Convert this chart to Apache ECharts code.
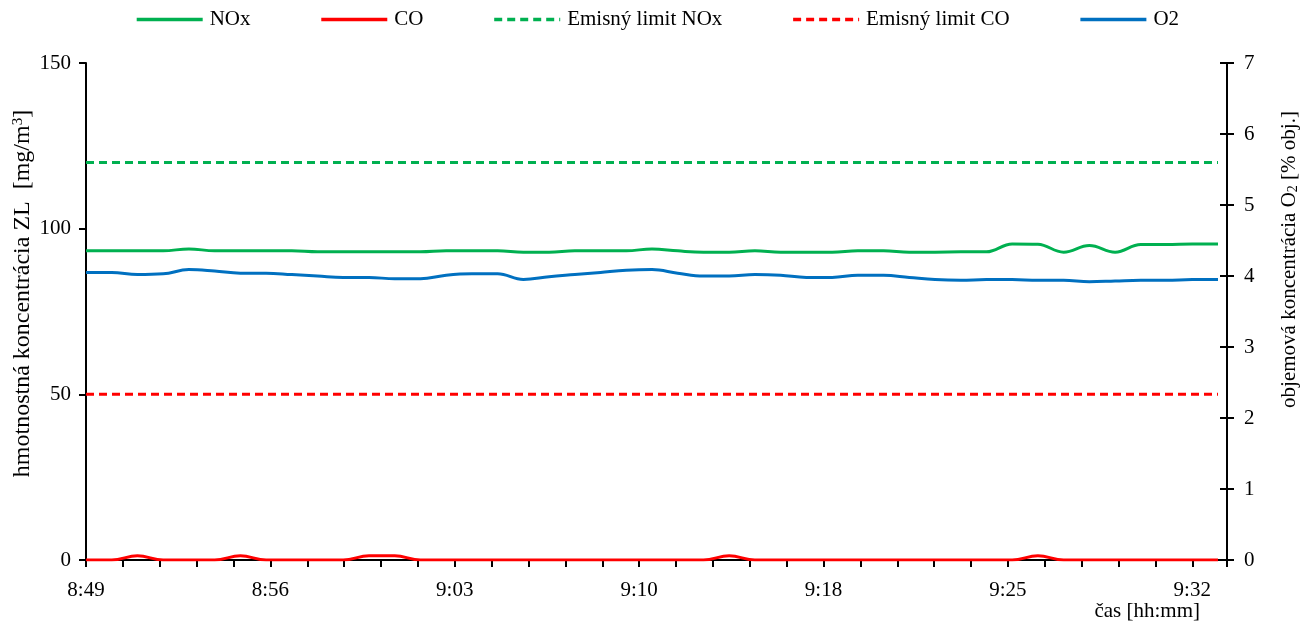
<!DOCTYPE html>
<html>
<head>
<meta charset="utf-8">
<title>Emisie NOx, CO, O2</title>
<script src="https://cdn.jsdelivr.net/npm/echarts@6/dist/echarts.min.js"></script>
<style>
  html, body { margin: 0; padding: 0; background: #fff; }
  #chart { width: 1314px; height: 625px; }
</style>
</head>
<body>
<div id="chart"></div>
<script>
// časy merania - každú minútu
const times = [
  '8:49', '8:50', '8:51', '8:52', '8:53', '8:54', '8:55', '8:56', '8:57', '8:58', '8:59',
  '9:00', '9:01', '9:02', '9:03', '9:04', '9:05', '9:06', '9:07', '9:08', '9:09', '9:10',
  '9:11', '9:12', '9:13', '9:14', '9:15', '9:16', '9:17', '9:18', '9:19', '9:20', '9:21',
  '9:22', '9:23', '9:24', '9:25', '9:26', '9:27', '9:28', '9:29', '9:30', '9:31', '9:32', '9:33'
]
const tickLabels = ['8:49', '8:56', '9:03', '9:10', '9:18', '9:25', '9:32']

// mg/m3
const noxValues = [
  93.3, 93.3, 93.3, 93.3, 93.9, 93.3, 93.3, 93.3, 93.3, 93.0, 93.0, 93.0, 93.0, 93.0, 93.3,
  93.3, 93.3, 92.9, 92.9, 93.3, 93.3, 93.3, 93.9, 93.3, 92.9, 92.9, 93.3, 92.9, 92.9, 92.9,
  93.3, 93.3, 92.9, 92.9, 93.0, 93.0, 95.4, 95.3, 92.9, 94.9, 92.9, 95.2, 95.2, 95.4, 95.4
]
const coValues = [
  0, 0, 1.3, 0, 0, 0, 1.3, 0, 0, 0, 0, 1.3, 1.3, 0, 0,
  0, 0, 0, 0, 0, 0, 0, 0, 0, 0, 1.3, 0, 0, 0, 0,
  0, 0, 0, 0, 0, 0, 0, 1.3, 0, 0, 0, 0, 0, 0, 0
]
// % obj.
const o2Values = [
  4.05, 4.05, 4.02, 4.03, 4.09, 4.07, 4.04, 4.04, 4.02, 4.00, 3.98, 3.98, 3.96, 3.96, 4.01,
  4.03, 4.03, 3.95, 3.99, 4.02, 4.05, 4.08, 4.09, 4.04, 4.00, 4.00, 4.02, 4.01, 3.98, 3.98,
  4.01, 4.01, 3.98, 3.95, 3.94, 3.95, 3.95, 3.94, 3.94, 3.92, 3.93, 3.94, 3.94, 3.95, 3.95
]
const noxLimit = 120
const coLimit = 50

const FONT = "'Liberation Serif', 'Times New Roman', serif"
const GREEN = '#00B050'
const RED = '#FF0000'
const BLUE = '#0070C0'

const toMinutes = (t) => {
  const [h, m] = t.split(':').map(Number)
  return h * 60 + m
}
const start = toMinutes(times[0])
const xs = times.map(t => toMinutes(t) - start)
const pairs = (vals) => vals.map((v, i) => [xs[i], v])
const limitPairs = (v) => xs.map(x => [x, v])

const tickStep = 43 / 30

const lineSeries = (name, data, color, dashed, yAxisIndex) => ({
  name,
  type: 'line',
  data,
  yAxisIndex,
  symbol: 'none',
  smooth: dashed ? false : 0.4,
  lineStyle: { color, width: 3, type: dashed ? [8, 5] : 'solid' },
  itemStyle: { color },
  emphasis: { disabled: true }
})

const chart = echarts.init(document.getElementById('chart'))
chart.setOption({
  animation: false,
  textStyle: { fontFamily: FONT, color: '#000' },
  legend: {
    top: 4,
    left: 'center',
    itemWidth: 66,
    itemHeight: 14,
    itemGap: 69,
    itemStyle: { color: 'rgba(0,0,0,0)', borderWidth: 0 },
    lineStyle: { width: 3.5 },
    textStyle: { fontFamily: FONT, fontSize: 21, color: '#000', padding: [0, 0, 0, 2] },
    data: ['NOx', 'CO', 'Emisný limit NOx', 'Emisný limit CO', 'O2']
  },
  grid: { left: 86, right: 87, top: 63, bottom: 65, containLabel: false, outerBoundsMode: 'none' },
  xAxis: {
    type: 'value',
    min: 0,
    max: 44.35,
    interval: tickStep,
    name: 'čas [hh:mm]',
    nameLocation: 'end',
    nameGap: -27,
    nameMoveOverlap: false,
    nameTextStyle: { fontFamily: FONT, fontSize: 21, color: '#000', align: 'right', verticalAlign: 'top', padding: [41, 0, 0, 0] },
    axisLine: { lineStyle: { color: '#000', width: 2 } },
    axisTick: { length: 7, lineStyle: { color: '#000', width: 2 } },
    axisLabel: {
      margin: 20,
      fontFamily: FONT,
      fontSize: 21,
      color: '#000',
      formatter: (v) => {
        const k = Math.round(v / tickStep)
        return k % 5 === 0 && tickLabels[k / 5] ? tickLabels[k / 5] : ''
      }
    },
    splitLine: { show: false }
  },
  yAxis: [
    {
      type: 'value',
      min: 0,
      max: 150,
      interval: 50,
      name: '{a|hmotnostná koncentrácia ZL  [mg/m}{sup|3}{a|]}',
      nameLocation: 'middle',
      nameRotate: 90,
      nameGap: 51,
      nameMoveOverlap: false,
      nameTextStyle: {
        padding: [0, 0, 0, 36],
        rich: {
          a: { fontFamily: FONT, fontSize: 24, color: '#000' },
          sup: { fontFamily: FONT, fontSize: 15, color: '#000', verticalAlign: 'top' }
        }
      },
      axisLine: { show: true, lineStyle: { color: '#000', width: 2 } },
      axisTick: { show: true, length: 7, lineStyle: { color: '#000', width: 2 } },
      axisLabel: { margin: 15, fontFamily: FONT, fontSize: 21, color: '#000' },
      splitLine: { show: false }
    },
    {
      type: 'value',
      position: 'right',
      min: 0,
      max: 7,
      interval: 1,
      name: '{a|objemová koncentrácia O}{sub|2}{a| [% obj.]}',
      nameLocation: 'middle',
      nameRotate: 90,
      nameGap: 52,
      nameMoveOverlap: false,
      nameTextStyle: {
        padding: [0, 0, 0, 104],
        rich: {
          a: { fontFamily: FONT, fontSize: 21, color: '#000' },
          sub: { fontFamily: FONT, fontSize: 14, color: '#000', verticalAlign: 'bottom' }
        }
      },
      axisLine: { show: true, lineStyle: { color: '#000', width: 2 } },
      axisTick: { show: true, length: 7, lineStyle: { color: '#000', width: 2 } },
      axisLabel: { margin: 17, fontFamily: FONT, fontSize: 21, color: '#000' },
      splitLine: { show: false }
    },
    {
      // vnútorné značky pravej osi (pretínajúce značky)
      type: 'value',
      position: 'right',
      min: 0,
      max: 7,
      interval: 1,
      axisLine: { show: false },
      axisTick: { show: true, inside: true, length: 7, lineStyle: { color: '#000', width: 2 } },
      axisLabel: { show: false },
      splitLine: { show: false }
    }
  ],
  series: [
    lineSeries('NOx', pairs(noxValues), GREEN, false, 0),
    lineSeries('CO', pairs(coValues), RED, false, 0),
    lineSeries('Emisný limit NOx', limitPairs(noxLimit), GREEN, true, 0),
    lineSeries('Emisný limit CO', limitPairs(coLimit), RED, true, 0),
    lineSeries('O2', pairs(o2Values), BLUE, false, 1)
  ]
})
</script>
</body>
</html>
